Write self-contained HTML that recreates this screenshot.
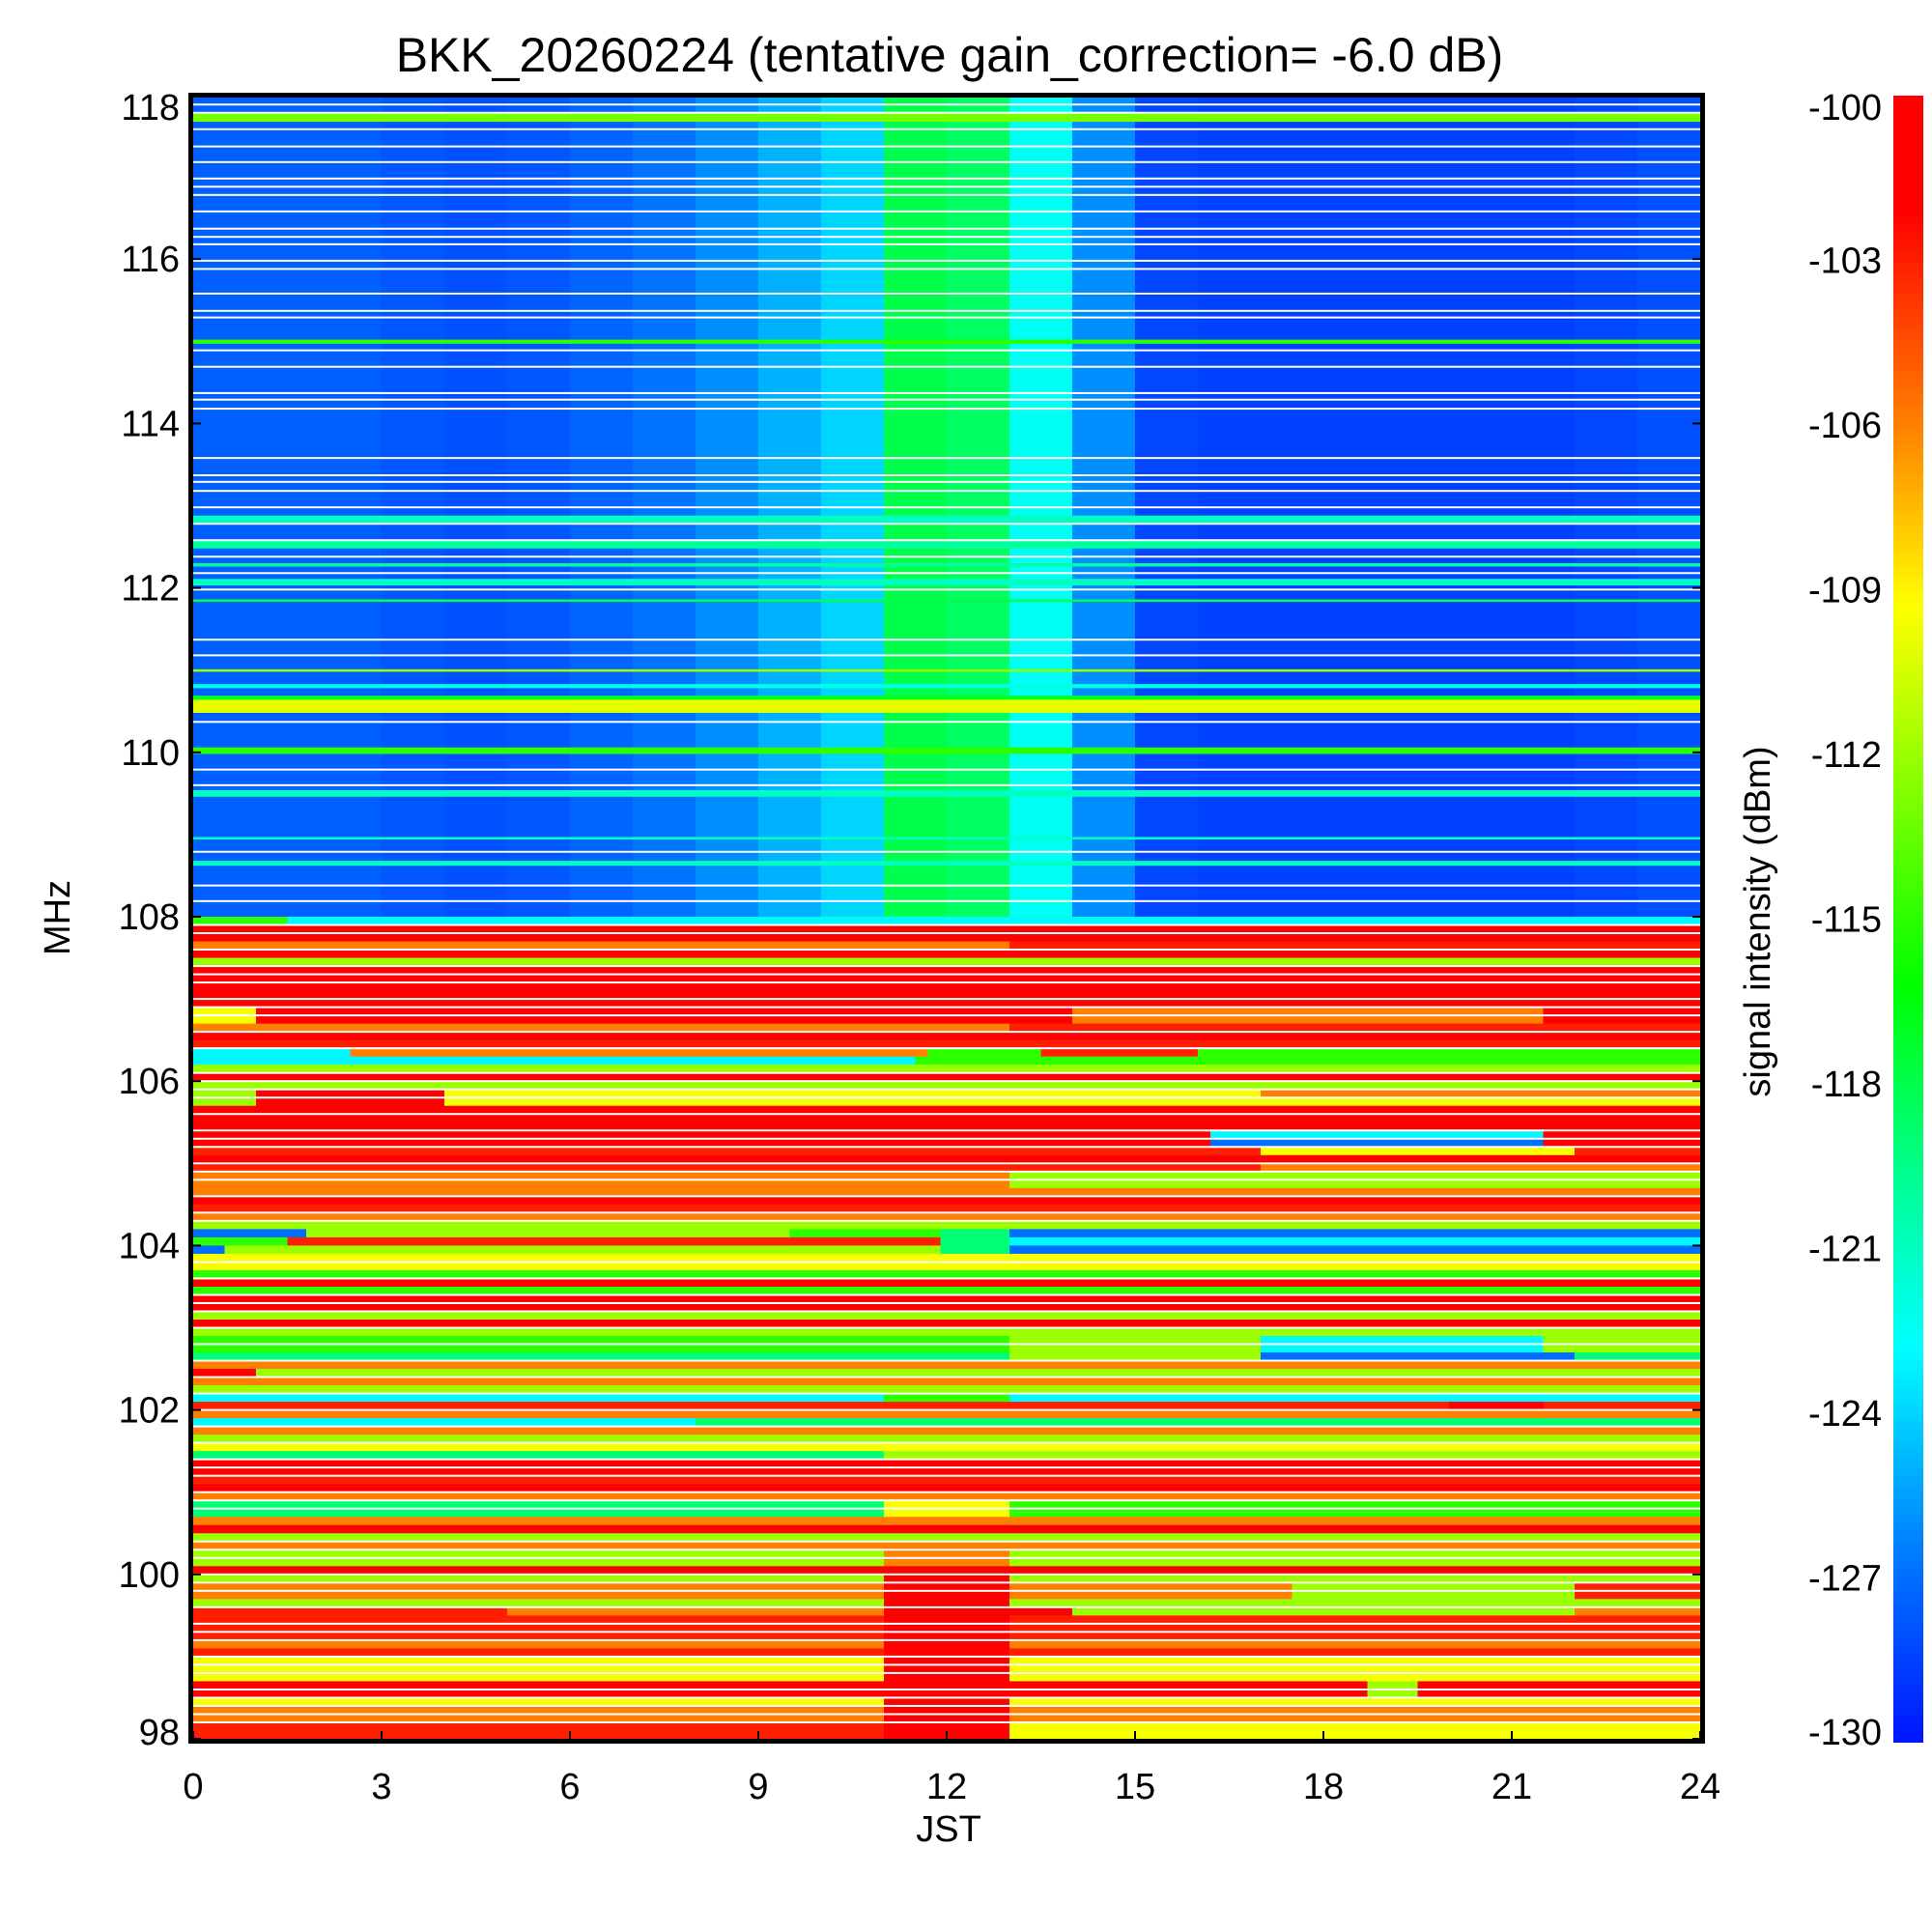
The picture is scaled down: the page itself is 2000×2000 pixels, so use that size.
<!DOCTYPE html>
<html><head><meta charset="utf-8"><style>
html,body{margin:0;padding:0;background:#fff;}
svg{display:block;font-family:"Liberation Sans",Arial,sans-serif;}
</style></head><body>
<svg id="chart" width="2000" height="2000" viewBox="0 0 2000 2000" xmlns="http://www.w3.org/2000/svg">
<defs><linearGradient id="cbar" x1="0" y1="0" x2="0" y2="1">
<stop offset="0" stop-color="#ff0000"/><stop offset="0.07" stop-color="#ff0000"/><stop offset="0.2" stop-color="#ff8000"/><stop offset="0.31" stop-color="#ffff00"/><stop offset="0.54" stop-color="#00ff00"/><stop offset="0.66" stop-color="#00ff96"/><stop offset="0.76" stop-color="#00ffff"/><stop offset="0.88" stop-color="#0080ff"/><stop offset="1" stop-color="#0014ff"/>
</linearGradient></defs>
<g id="heat"></g>
<g id="axes"></g>
<text x="983" y="74" font-size="50" text-anchor="middle">BKK_20260224 (tentative gain_correction= -6.0 dB)</text>
<text x="982" y="1906" font-size="38" text-anchor="middle">JST</text>
<text x="0" y="0" font-size="38" text-anchor="middle" transform="translate(72,950) rotate(-90)">MHz</text>
<text x="0" y="0" font-size="38" text-anchor="middle" transform="translate(1832,954) rotate(-90)">signal intensity (dBm)</text>
<rect x="1960" y="99" width="31" height="1705" fill="url(#cbar)"/>
</svg>
<script>
// ---- data ----
const hours = [0,1,2,3,4,5,6,7,8,9,10,11,12,13,14,15,16,17,18,19,20,21,22,23];
const upperProfile = [-127.5,-127.5,-127.5,-127.8,-128,-127.8,-127.3,-126.8,-126,-125,-124,-118,-118.5,-122.5,-126,-128.3,-128.5,-128.5,-128.5,-128.5,-128.5,-128.5,-128.3,-128];
const upperLineLo = [117.67,114.97,112.78,112.48,112.26,112.03,111.83,110.98,110.78,110.64,110.48,109.98,109.46,108.94,108.62];
const upperLineHi = [117.78,115.02,112.88,112.58,112.30,112.11,111.86,111.01,110.83,110.69,110.64,110.06,109.54,108.97,108.68];
const upperLineVal = [-113,-115,-121,-120,-120,-121,-118,-112,-122,-117,-110,-115,-121,-121,-121];
const whiteLines = [117.88,117.78,117.58,117.37,117.18,116.98,116.88,116.78,116.58,116.37,116.27,116.18,115.98,115.88,115.58,115.37,115.29,114.89,114.69,114.37,114.29,114.18,113.58,113.37,113.29,113.18,112.98,112.78,112.58,112.38,112.18,111.98,111.37,111.18,110.37,109.79,109.6,108.79,108.38,108.19];
const lowerWhiteRows = [1,2,4,6,7,8,10,11,12,14,16,19,20,21,22,24,26,27,28,30,31,32,34,36,37,42,44,46,47,48,50,52,54,56,58,60,62,64,66,67,68,70,71,72,76,77,78,80,81,82,84,86,87,88,90,91,92,94,95,96,97,98];
const levelCodes = ["R","O","M","Y","L","G","C","A","B"];
const levelDbm = [-100.5,-103,-106,-109.5,-112,-115,-119,-123,-127];
const lowerRows = [
"0G 1.5A","R","R","0M 13O","R","L","R","R","R","R",
"R","0Y 1R 14M 21.5R","0Y 1R 14M 21.5R","0M 13O","R","O","0A 2.5M 11.7G 13.5O 16G","0A 11.5G","L","R",
"L","0L 1R 4Y 17M","0L 1R 4Y","R","R","R","0R 16.2A 21.5R","0R 16.2B 21.5R","0O 17Y 22O","R",
"0O 17M","0M 13L","0M 13L","M","R","O","M","L","0B 1.8L 9.5G 11.9C 13B","0G 1.5O 11.9C 13A",
"0B 0.5L 11.9C 13B","Y","Y","G","R","G","R","R","L","R",
"L","0G 13L 17A 21.5L","0G 13L 17A 21.5L","0C 13L 17B 22C","M","0R 1L","M","L","0A 11G 13A","0O 20R 21.5O",
"M","0A 8C","M","L","Y","0C 11L","R","R","O","R",
"M","0C 11Y 13G","0C 11Y 13G","M","R","L","M","0L 11M 13L","0L 11M 13L","R",
"0L 11R 13L","0M 11R 13M 17.5L 22O","0M 11R 13M 17.5L 22O","0L 11R 13L","0O 5M 11R 14L 22M","0O 11R 13O","0O 11R 13O","0O 11R 13O","0M 11R 13M","0O 11R 13O",
"0Y 11R 13Y","0Y 11R 13Y","0Y 11R 13Y","0R 18.7L 19.5R","0R 18.7L 19.5R","0Y 11R 13Y","0M 11R 13M","0M 11R 13M","0O 11R 13Y","0O 11R 13Y"
];
const yTicks = [98,100,102,104,106,108,110,112,114,116,118];
const xTicks = [0,3,6,9,12,15,18,21,24];
const cbarLabels = [-100,-103,-106,-109,-112,-115,-118,-121,-124,-127,-130];

// ---- scales ----
const X0=200, X1=1760, Y0=1800, PXF=85.1;
function xs(h){return X0+(h/24)*(X1-X0);}
function ys(f){return Y0-(f-98)*PXF;}
const stops=[[0,255,0,0],[0.07,255,0,0],[0.2,255,128,0],[0.31,255,255,0],[0.54,0,255,0],[0.66,0,255,150],[0.76,0,255,255],[0.88,0,128,255],[1,0,20,255]];
function color(v){
  let f=(-100-v)/30; f=Math.max(0,Math.min(1,f));
  for(let i=1;i<stops.length;i++){ if(f<=stops[i][0]){const a=stops[i-1],b=stops[i];const t=(f-a[0])/(b[0]-a[0]||1);
    return `rgb(${Math.round(a[1]+t*(b[1]-a[1]))},${Math.round(a[2]+t*(b[2]-a[2]))},${Math.round(a[3]+t*(b[3]-a[3]))})`;}}
  return "rgb(0,20,255)";
}
const NS="http://www.w3.org/2000/svg";
const heat=document.getElementById('heat'), axes=document.getElementById('axes');
function rect(parent,x,y,w,h,fill,name){
  const r=document.createElementNS(NS,'rect');
  r.setAttribute('x',x);r.setAttribute('y',y);r.setAttribute('width',w);r.setAttribute('height',h);r.setAttribute('fill',fill);
  
  
  parent.appendChild(r);return r;
}
hours.forEach((h,i)=>{
  rect(heat,xs(h),ys(118),xs(h+1)-xs(h)+0.5,ys(108)-ys(118),color(upperProfile[i]),'upper-cell');
});
upperLineVal.forEach((v,i)=>{
  rect(heat,xs(0),ys(upperLineHi[i]),xs(24)-xs(0),Math.max(2,ys(upperLineLo[i])-ys(upperLineHi[i])),color(v),'upper-line');
});
whiteLines.forEach(f=>{ rect(heat,xs(0),ys(f)-1,xs(24)-xs(0),2,'#ffffff','white-gap'); });
lowerRows.forEach((s,k)=>{
  const fHi=108-0.1*k, fLo=fHi-0.1;
  const toks=s.split(' ');
  const segs=toks.map(t=>{const m=t.match(/^([\d.]*)([A-Z])$/);return {h:m[1]===''?0:parseFloat(m[1]),c:m[2]};});
  segs.forEach((sg,j)=>{
    const h1=j+1<segs.length?segs[j+1].h:24;
    const v=levelDbm[levelCodes.indexOf(sg.c)];
    rect(heat,xs(sg.h),ys(fHi),xs(h1)-xs(sg.h)+0.5,ys(fLo)-ys(fHi)+0.5,color(v),'lower-cell');
  });
});
lowerWhiteRows.forEach(k=>{ rect(heat,xs(0),ys(108-0.1*k)-1,xs(24)-xs(0),2,'#ffffff','white-gap'); });
rect(axes,195,96,1570,5,'#000','frame-top');
rect(axes,195,1800,1570,5,'#000','frame-bottom');
rect(axes,195,96,5,1709,'#000','frame-left');
rect(axes,1760,96,5,1709,'#000','frame-right');
function text(x,y,s,anchor,name){
  const t=document.createElementNS(NS,'text');
  t.setAttribute('x',x);t.setAttribute('y',y);t.setAttribute('font-size','38');t.setAttribute('text-anchor',anchor);
  
  
  t.textContent=s;document.getElementById('chart').appendChild(t);
}
yTicks.forEach(f=>{
  let cy=ys(f); if(f===118) cy=111; if(f===98) cy=1793;
  text(186,cy+13,String(f),'end','y-tick-label');
  rect(axes,200,ys(f)-1,8,2,'#000','y-tick');
  rect(axes,1752,ys(f)-1,8,2,'#000','y-tick-right');
});
xTicks.forEach(h=>{
  text(xs(h),1862,String(h),'middle','x-tick-label');
  rect(axes,xs(h)-1,1792,2,8,'#000','x-tick');
});
cbarLabels.forEach((v,i)=>{
  let cy=99+i*170.5; if(i===0) cy=111; if(i===cbarLabels.length-1) cy=1793;
  text(1948,cy+13,String(v),'end','colorbar-label');
});
</script>
</body></html>
